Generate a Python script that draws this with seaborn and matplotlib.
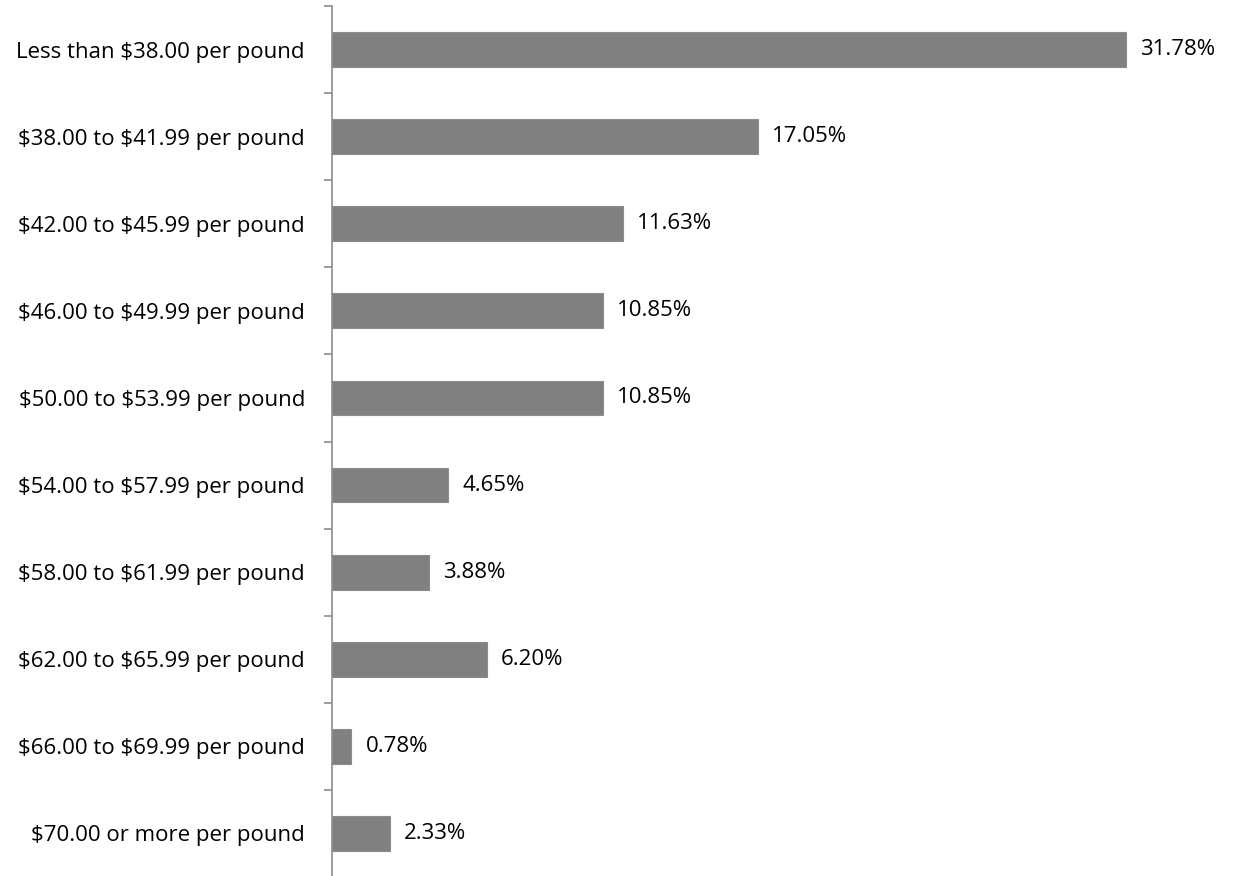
import matplotlib
matplotlib.use("Agg")
import matplotlib.pyplot as plt
import seaborn as sns
import pandas as pd
import numpy as np

# price ranges (top to bottom) and share of responses in percent
categories = [
    "Less than $38.00 per pound",
    "$38.00 to $41.99 per pound",
    "$42.00 to $45.99 per pound",
    "$46.00 to $49.99 per pound",
    "$50.00 to $53.99 per pound",
    "$54.00 to $57.99 per pound",
    "$58.00 to $61.99 per pound",
    "$62.00 to $65.99 per pound",
    "$66.00 to $69.99 per pound",
    "$70.00 or more per pound",
]
shares = [31.78, 17.05, 11.63, 10.85, 10.85, 4.65, 3.88, 6.20, 0.78, 2.33]

df = pd.DataFrame({"Price": categories, "Share": shares})

sns.set_style("white")
plt.rcParams["font.family"] = ["Open Sans", "DejaVu Sans"]
plt.rcParams["text.parse_math"] = False  # keep the $ signs literal

fig = plt.figure(figsize=(12.33, 8.76), dpi=100)
ax = fig.add_axes([332 / 1233, -1 / 876, 1 - 332 / 1233, 871 / 876])

sns.barplot(data=df, x="Share", y="Price", orient="h", color="#808080",
            width=0.4, saturation=1, edgecolor="#8c8c8c", linewidth=0.8, ax=ax)

ax.bar_label(ax.containers[0], labels=[f"{v:.2f}%" for v in shares],
             padding=10, fontsize=16, color="black")

ax.set_xlim(0, 36.05)
ax.set_ylim(len(categories) - 0.5, -0.5)
ax.set_xlabel("")
ax.set_ylabel("")
ax.set_xticks([])

for side in ["top", "right", "bottom"]:
    ax.spines[side].set_visible(False)
ax.spines["left"].set_color("#8c8c8c")
ax.spines["left"].set_linewidth(1.2)

# category labels without tick marks, tick marks on the boundaries
ax.tick_params(axis="y", which="major", left=True, length=0, pad=19.5,
               labelsize=16, labelcolor="black")
ax.set_yticks(np.arange(-0.5, len(categories), 1.0), minor=True)
ax.tick_params(axis="y", which="minor", left=True, length=6, width=1.2,
               color="#8c8c8c")

fig.savefig("out.png", dpi=100)
